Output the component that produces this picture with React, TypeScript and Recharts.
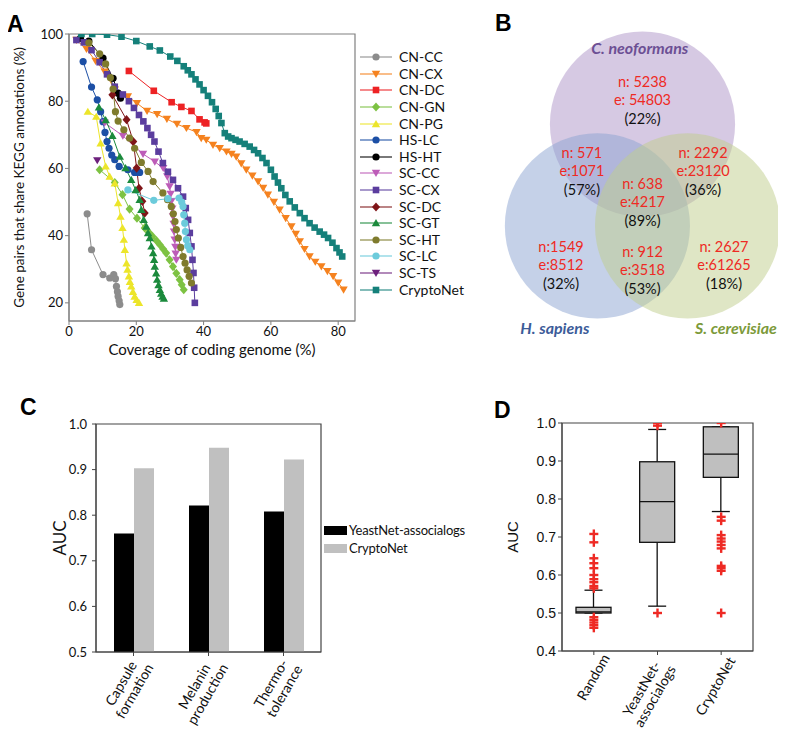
import React from "react";
import {
  LineChart,
  Line,
  XAxis,
  YAxis,
  Label,
  ReferenceArea,
  ScatterChart,
  Scatter,
  BarChart,
  Bar,
  ComposedChart,
} from "recharts";

const FONT = "Lato, 'Open Sans', sans-serif";
const ARIAL = "'Liberation Sans', Arial, sans-serif";

// ---------- panel A: coverage vs. KEGG sharing ----------
const aNames = [
  "CN-CC", "CN-CX", "CN-DC", "CN-GN", "CN-PG", "HS-LC", "HS-HT", "SC-CC",
  "SC-CX", "SC-DC", "SC-GT", "SC-HT", "SC-LC", "SC-TS", "CryptoNet",
];

const cnCC = [[5.4, 46.5], [6.7, 35.8], [10.1, 28.4], [12.1, 27.4], [13.3, 28.4], [13.8, 27.2], [14.1, 24.9], [14.4, 23.3], [14.6, 21.9], [14.9, 20.6], [15.1, 19.5]];
const cnCX = [[2.2, 98.2], [5.2, 95.5], [7.9, 92.0], [10.6, 88.8], [13.6, 83.4], [17.5, 81.4], [20.2, 79.4], [23.2, 77.1], [26.2, 76.1], [29.1, 74.7], [32.1, 73.2], [34.9, 72.0], [37.9, 70.8], [39.3, 69.0], [40.8, 68.5], [42.8, 67.0], [44.8, 66.0], [46.8, 65.0], [48.3, 64.3], [49.7, 63.5], [51.2, 61.5], [52.7, 59.6], [54.5, 57.8], [56.2, 56.1], [57.7, 54.2], [59.1, 52.2], [60.9, 50.0], [62.6, 47.7], [64.4, 45.2], [66.1, 42.7], [67.4, 40.5], [68.6, 38.3], [70.0, 36.0], [71.5, 33.8], [73.2, 32.2], [75.0, 30.8], [76.8, 29.4], [78.5, 27.9], [80.0, 26.0], [81.6, 23.9]];
const cnDC = [[17.8, 89.0], [25.2, 83.1], [30.5, 79.7], [33.4, 78.3], [36.4, 77.1], [38.8, 74.6], [40.3, 73.7], [40.8, 73.4]];
const cnGN = [[9.1, 59.6], [13.6, 55.8], [15.9, 52.2], [18.0, 47.9], [20.2, 45.2], [22.5, 42.3], [23.7, 41.0], [24.8, 39.8], [26.0, 38.5], [27.0, 37.3], [28.0, 36.0], [28.9, 34.8], [29.9, 32.8], [30.9, 30.8], [31.9, 28.8], [32.9, 26.9], [33.5, 25.4], [34.1, 23.9]];
const cnPG = [[5.6, 76.9], [8.1, 75.4], [9.4, 67.5], [10.9, 60.6], [12.1, 57.6], [13.6, 55.6], [14.6, 49.7], [15.3, 45.7], [15.9, 42.3], [16.3, 38.8], [16.6, 35.8], [17.1, 31.8], [17.4, 29.9], [17.8, 27.9], [18.1, 26.3], [18.5, 24.9], [19.0, 23.3], [19.5, 21.9], [20.1, 20.9], [20.8, 20.0]];
const hsLC = [[4.2, 91.8], [6.7, 84.2], [8.4, 80.4], [9.4, 76.9], [10.1, 73.9], [10.7, 70.7], [11.3, 68.0], [11.9, 66.0], [12.7, 64.0], [13.6, 62.6], [14.9, 60.6], [17.5, 59.6], [19.5, 58.8], [20.5, 58.8], [21.0, 58.8]];
const hsHT = [[3.4, 98.7], [5.9, 97.9], [10.1, 92.8], [13.1, 86.8], [14.6, 82.4], [15.3, 80.9]];
const scCC = [[10.6, 73.6], [16.0, 69.7], [22.0, 64.3], [25.5, 62.0], [28.0, 60.1], [29.2, 57.6], [29.9, 54.6], [30.2, 52.4], [30.4, 50.2], [30.7, 48.0], [30.9, 45.7], [31.1, 43.5], [31.2, 41.2], [31.4, 38.8], [31.6, 36.6], [31.7, 34.6], [31.9, 32.8]];
const scCX = [[2.2, 98.2], [4.4, 97.5], [6.7, 95.2], [9.1, 91.6], [11.3, 88.0], [13.6, 84.3], [16.0, 82.0], [17.8, 80.0], [19.3, 78.0], [20.8, 75.9], [22.1, 74.0], [23.3, 72.0], [24.4, 70.0], [25.4, 68.0], [26.6, 65.0], [27.9, 61.6], [29.4, 59.0], [30.9, 56.6], [32.4, 54.1], [33.9, 51.6], [34.7, 48.2], [35.4, 44.7], [35.9, 40.8], [36.4, 36.8], [36.7, 32.8], [37.0, 28.9], [37.2, 24.5], [37.4, 20.0]];
const scDC = [[12.9, 81.9], [17.1, 74.5], [19.1, 68.0], [20.1, 60.1], [20.8, 54.1], [21.8, 50.2], [22.5, 46.7]];
const scGT = [[8.9, 78.2], [10.9, 74.4], [12.9, 69.7], [15.1, 63.5], [16.8, 60.1], [18.5, 56.6], [19.8, 53.6], [21.0, 50.7], [21.5, 47.7], [22.2, 44.7], [23.0, 42.7], [23.5, 40.8], [24.0, 39.3], [24.5, 36.8], [25.0, 34.8], [25.3, 32.8], [25.5, 30.8], [25.9, 28.8], [26.2, 26.9], [26.6, 25.3], [27.0, 23.9], [27.4, 22.8], [27.8, 21.9], [28.2, 21.3]];
const scHT = [[5.9, 97.4], [9.1, 94.1], [10.9, 91.1], [12.3, 87.0], [13.1, 83.6], [13.8, 76.9], [14.6, 74.1], [16.3, 71.5], [18.0, 69.0], [19.5, 66.0], [21.5, 61.8], [23.5, 59.1], [25.0, 56.1], [27.9, 52.7], [29.3, 50.7], [30.4, 48.7], [31.0, 46.5], [31.5, 44.2], [31.9, 41.8], [32.5, 39.3], [33.2, 36.5], [33.9, 33.8], [34.5, 31.8], [35.1, 29.8], [35.7, 27.9], [36.4, 25.9]];
const scLC = [[17.5, 53.6], [25.2, 50.5], [29.4, 51.0], [32.7, 51.2], [33.5, 50.0], [33.9, 48.7], [34.1, 46.2], [34.4, 43.7], [34.6, 41.2], [34.9, 38.8], [35.3, 37.0], [35.9, 35.8]];
const scTS = [[8.4, 62.4]];
const cryptoNetA = [[3.7, 100], [6.9, 100], [11.3, 99.8], [15.6, 99.2], [20.0, 97.9], [24.0, 96.3], [27.0, 95.1], [30.1, 93.3], [32.2, 92.0], [34.1, 90.4], [35.3, 89.2], [36.4, 88.0], [37.6, 86.5], [38.8, 85.0], [40.0, 83.3], [41.3, 81.6], [42.5, 79.7], [43.6, 77.7], [44.5, 75.6], [45.3, 73.5], [46.3, 70.5], [47.3, 69.5], [48.3, 69.0], [49.5, 68.5], [50.7, 68.0], [52.2, 67.3], [53.7, 66.5], [55.0, 65.5], [56.2, 64.5], [57.5, 63.1], [58.7, 61.6], [60.0, 59.6], [61.1, 57.6], [62.1, 55.8], [63.1, 54.1], [64.3, 52.1], [65.6, 50.2], [67.1, 48.4], [68.6, 46.7], [70.0, 45.2], [71.5, 43.7], [73.0, 42.4], [74.5, 41.2], [75.8, 40.3], [77.0, 39.3], [78.3, 37.9], [79.5, 36.3], [80.4, 35.0], [81.2, 33.8]];

const aValues = [cnCC, cnCX, cnDC, cnGN, cnPG, hsLC, hsHT, scCC, scCX, scDC, scGT, scHT, scLC, scTS, cryptoNetA];
const aColors = ["#8c8c8c", "#f5821f", "#ed2224", "#7dc242", "#ece52a", "#1c4fa5", "#000000", "#bd5cb8", "#5b3d9e", "#7f1518", "#1b8a3c", "#7f7b2d", "#6ccbdb", "#6d207c", "#15807a"];
const aMarkers = ["circle", "down", "square", "diamond", "up", "circle", "circle", "down", "square", "diamond", "up", "circle", "circle", "down", "square"];

const xTicksA = [0, 20, 40, 60, 80];
const yTicksA = [20, 40, 60, 80, 100];

// ---------- panel B: Venn ----------
const vennSets = ["C. neoformans", "H. sapiens", "S. cerevisiae"];
const vennCx = [0, -0.487, 0.487];
const vennCy = [0.55, -0.55, -0.55];
const vennFill = ["#ae93c8", "#8ba4d1", "#bfcd8b"];
const vennText = ["#6c4f94", "#3c5c99", "#7c9a3a"];
const setLabelX = [-0.03, -0.946, 1.01];
const setLabelY = [1.37, -1.654, -1.654];

const regionN = ["n:  5238", "n: 571", "n: 2292", "n: 638", "n:1549", "n: 912", "n: 2627"];
const regionE = ["e: 54803", "e:1071", "e:23120", "e:4217", "e:8512", "e:3518", "e:61265"];
const regionPct = ["(22%)", "(57%)", "(36%)", "(89%)", "(32%)", "(53%)", "(18%)"];
const regionX = [0, -0.654, 0.654, 0, -0.88, 0, 0.88];
const regionY = [1.005, 0.238, 0.238, -0.097, -0.778, -0.832, -0.778];

const VENN_W = 287;
const VENN_H = 340;
const VENN_XD = [-1.55, 1.55];
const VENN_YD = [-1.838, 1.838];

// ---------- panel C: bars ----------
const cCats = ["Capsule\nformation", "Melanin\nproduction", "Thermo-\ntolerance"];
const cYeast = [0.76, 0.821, 0.808];
const cCrypto = [0.903, 0.948, 0.922];
const cTicks = [0.5, 0.6, 0.7, 0.8, 0.9, 1.0];

// ---------- panel D: box plots ----------
const dCats = ["Random", "YeastNet-\nassocialogs", "CryptoNet"];
const dLow = [0.5, 0.518, 0.767];
const dQ1 = [0.5, 0.686, 0.857];
const dMed = [0.503, 0.793, 0.918];
const dQ3 = [0.515, 0.898, 0.99];
const dHigh = [0.56, 0.983, 0.99];
const dOutliers = [
  [0.708, 0.686, 0.644, 0.631, 0.618, 0.6, 0.589, 0.581, 0.571, 0.565, 0.489, 0.482, 0.475, 0.468, 0.461],
  [1.0, 0.993, 0.5],
  [1.0, 0.753, 0.743, 0.705, 0.696, 0.688, 0.679, 0.67, 0.624, 0.618, 0.611, 0.5],
];
const dTicks = [0.4, 0.5, 0.6, 0.7, 0.8, 0.9, 1.0];

function Marker({ kind, cx, cy, color }: any) {
  if (cx == null || cy == null) return null;
  if (kind === "circle") return <circle cx={cx} cy={cy} r={3.6} fill={color} />;
  if (kind === "square") return <rect x={cx - 3.3} y={cy - 3.3} width={6.6} height={6.6} fill={color} />;
  if (kind === "down")
    return <polygon points={`${cx - 4.2},${cy - 3.2} ${cx + 4.2},${cy - 3.2} ${cx},${cy + 4}`} fill={color} />;
  if (kind === "up")
    return <polygon points={`${cx - 4.2},${cy + 3.2} ${cx + 4.2},${cy + 3.2} ${cx},${cy - 4}`} fill={color} />;
  return <polygon points={`${cx},${cy - 4.6} ${cx + 4},${cy} ${cx},${cy + 4.6} ${cx - 4},${cy}`} fill={color} />;
}

// rotated, right-anchored block; lines centred within the block
function RotTick({ x, y, payload, labels, fontSize = 14 }: any) {
  const raw = labels ? labels[payload.value - 1] : payload.value;
  const lines = String(raw).split("\n");
  const lh = fontSize * 1.1;
  const blockW = Math.max(...lines.map((l) => l.length)) * fontSize * 0.5;
  return (
    <g transform={`translate(${x + 10},${y + 2}) rotate(-60)`}>
      <text textAnchor="middle" fontSize={fontSize} fontFamily={FONT} fill="#111">
        {lines.map((l, i) => (
          <tspan key={i} x={-blockW / 2} y={(i - (lines.length - 1) / 2) * lh + fontSize * 0.35}>
            {l}
          </tspan>
        ))}
      </text>
    </g>
  );
}

function BoxShape(props: any) {
  const { x, y, width, height, payload } = props;
  const lo = payload.whisker[0];
  const hi = payload.whisker[1];
  const k = height / (hi - lo || 1);
  const yOf = (v: number) => y + (hi - v) * k;
  const cx = x + width / 2;
  const cap = 9;
  return (
    <g stroke="#111" strokeWidth={1.3}>
      <line x1={cx} x2={cx} y1={yOf(hi)} y2={yOf(payload.q3)} />
      <line x1={cx} x2={cx} y1={yOf(payload.q1)} y2={yOf(lo)} />
      <line x1={cx - cap} x2={cx + cap} y1={yOf(hi)} y2={yOf(hi)} />
      <line x1={cx - cap} x2={cx + cap} y1={yOf(lo)} y2={yOf(lo)} />
      <rect x={x} y={yOf(payload.q3)} width={width} height={yOf(payload.q1) - yOf(payload.q3)} fill="#bfbfbf" />
      <line x1={x} x2={x + width} y1={yOf(payload.med)} y2={yOf(payload.med)} />
    </g>
  );
}

function Plus({ cx, cy }: any) {
  return (
    <g stroke="#ee2a24" strokeWidth={2.4}>
      <line x1={cx - 4.5} x2={cx + 4.5} y1={cy} y2={cy} />
      <line x1={cx} x2={cx} y1={cy - 4.5} y2={cy + 4.5} />
    </g>
  );
}

const letter = (ch: string, left: number, top: number) => (
  <div
    style={{
      position: "absolute",
      left,
      top,
      fontFamily: ARIAL,
      fontWeight: 700,
      fontSize: 23,
      lineHeight: "24px",
    }}
  >
    {ch}
  </div>
);

export default function App() {
  const vennPx = VENN_W / (VENN_XD[1] - VENN_XD[0]);
  const circles = vennSets.map((s, i) => ({ name: s, x: vennCx[i], y: vennCy[i], i }));
  const setLabels = vennSets.map((s, i) => ({ name: s, x: setLabelX[i], y: setLabelY[i], i }));
  const regions = regionN.map((n, i) => ({ n, e: regionE[i], p: regionPct[i], x: regionX[i], y: regionY[i] }));

  const cData = cCats.map((c, i) => ({ name: c, yeast: cYeast[i], crypto: cCrypto[i] }));
  const dData = dCats.map((c, i) => ({
    pos: i + 1,
    whisker: [dLow[i], dHigh[i]],
    q1: dQ1[i],
    med: dMed[i],
    q3: dQ3[i],
  }));
  const dOut = dOutliers.flatMap((vals, i) => vals.map((v) => ({ pos: i + 1, v })));

  const axisTick = { fontSize: 13, fill: "#111", fontFamily: FONT };

  return (
    <div style={{ position: "relative", width: 778, height: 723, overflow: "hidden", fontFamily: FONT }}>
      {letter("A", -1, 4)}
      {letter("B", 487, 3)}
      {letter("C", 12, 387)}
      {letter("D", 486, 390)}

      {/* Panel A */}
      <div style={{ position: "absolute", left: 0, top: 0 }}>
        <LineChart width={490} height={355} margin={{ top: 26, right: 143, bottom: 0, left: 0 }}>
          <XAxis
            type="number"
            dataKey="x"
            domain={[0, 85]}
            ticks={xTicksA}
            height={42}
            tick={axisTick}
            tickSize={4}
            axisLine={{ stroke: "#808080" }}
            tickLine={{ stroke: "#808080" }}
            allowDataOverflow
          >
            <Label value="Coverage of coding genome (%)" position="center" dy={8} fontSize={15} fill="#111" fontFamily={FONT} />
          </XAxis>
          <YAxis
            type="number"
            domain={[14.6, 100]}
            ticks={yTicksA}
            width={61}
            tick={axisTick}
            tickSize={4}
            axisLine={{ stroke: "#808080" }}
            tickLine={{ stroke: "#808080" }}
            allowDataOverflow
          >
            <Label
              value="Gene pairs that share KEGG annotations (%)"
              angle={-90}
              position="center"
              dx={-19}
              fontSize={13.5}
              fill="#111"
              fontFamily={FONT}
            />
          </YAxis>
          <ReferenceArea x1={0} x2={85} y1={14.6} y2={100} fill="none" stroke="#808080" strokeWidth={1.2} />
          {aNames.map((name, si) => (
            <Line
              key={name}
              data={aValues[si].map(([x, y]) => ({ x, y }))}
              dataKey="y"
              name={name}
              type="linear"
              stroke={aColors[si]}
              strokeWidth={1}
              isAnimationActive={false}
              activeDot={false}
              dot={(p: any) => (
                <Marker key={`${name}-${p.index}`} kind={aMarkers[si]} cx={p.cx} cy={p.cy} color={aColors[si]} />
              )}
            />
          ))}
        </LineChart>
      </div>
      <div style={{ position: "absolute", left: 350, top: 41, fontSize: 14, color: "#111" }}>
        {aNames.map((name, si) => (
          <div key={name} style={{ display: "flex", alignItems: "center", height: 16.6 }}>
            <svg width={36} height={14}>
              <line x1={2} y1={7} x2={34} y2={7} stroke={aColors[si]} strokeWidth={1.4} opacity={0.75} />
              <Marker kind={aMarkers[si]} cx={18} cy={7} color={aColors[si]} />
            </svg>
            <span style={{ marginLeft: 5, lineHeight: "14px" }}>{name}</span>
          </div>
        ))}
      </div>

      {/* Panel B */}
      <div style={{ position: "absolute", left: 491, top: -3 }}>
        <ScatterChart width={VENN_W} height={VENN_H} margin={{ top: 0, right: 0, bottom: 0, left: 0 }}>
          <XAxis type="number" dataKey="x" domain={VENN_XD} hide />
          <YAxis type="number" dataKey="y" domain={VENN_YD} hide />
          <Scatter
            data={circles}
            isAnimationActive={false}
            shape={(p: any) => (
              <circle cx={p.cx} cy={p.cy} r={vennPx} fill={vennFill[p.payload.i]} fillOpacity={0.5} />
            )}
          />
          <Scatter
            data={setLabels}
            isAnimationActive={false}
            shape={(p: any) => (
              <text
                x={p.cx}
                y={p.cy}
                dy="0.35em"
                textAnchor="middle"
                fontFamily={FONT}
                fontWeight={700}
                fontStyle="italic"
                fontSize={16}
                fill={vennText[p.payload.i]}
              >
                {p.payload.name}
              </text>
            )}
          />
          <Scatter
            data={regions}
            isAnimationActive={false}
            shape={(p: any) => (
              <g fontFamily={FONT} fontSize={14.5} textAnchor="middle">
                <text x={p.cx} y={p.cy} dy="0.35em" fill="#ee2a24">
                  {p.payload.n}
                </text>
                <text x={p.cx} y={p.cy + 17.5} dy="0.35em" fill="#ee2a24">
                  {p.payload.e}
                </text>
                <text x={p.cx} y={p.cy + 36.5} dy="0.35em" fill="#111">
                  {p.payload.p}
                </text>
              </g>
            )}
          />
        </ScatterChart>
      </div>

      {/* Panel C */}
      <div style={{ position: "absolute", left: 0, top: 380 }}>
        <BarChart
          width={470}
          height={343}
          data={cData}
          margin={{ top: 36, right: 157, bottom: 0, left: 0 }}
          barGap={0}
          barSize={20}
        >
          <XAxis
            dataKey="name"
            height={79}
            interval={0}
            tick={<RotTick fontSize={14} />}
            tickSize={4}
            axisLine={{ stroke: "#444" }}
            tickLine={{ stroke: "#444" }}
          />
          <YAxis
            type="number"
            domain={[0.5, 1]}
            ticks={cTicks}
            width={88}
            tickFormatter={(v: number) => v.toFixed(1)}
            tick={axisTick}
            tickSize={4}
            tickMargin={5}
            axisLine={{ stroke: "#444" }}
            tickLine={{ stroke: "#444" }}
            allowDataOverflow
          >
            <Label value="AUC" angle={-90} position="center" dx={8} fontSize={17} fill="#111" fontFamily={FONT} />
          </YAxis>
          <ReferenceArea y1={0.5} y2={1} fill="none" stroke="#444" strokeWidth={1.2} />
          <Bar dataKey="yeast" name="YeastNet-associalogs" fill="#000000" isAnimationActive={false} />
          <Bar dataKey="crypto" name="CryptoNet" fill="#c0c0c0" isAnimationActive={false} />
        </BarChart>
      </div>
      <div style={{ position: "absolute", left: 316, top: 513, fontSize: 13, color: "#111", letterSpacing: -0.2 }}>
        {[
          ["YeastNet-associalogs", "#000000"],
          ["CryptoNet", "#c0c0c0"],
        ].map(([n, c]) => (
          <div key={n} style={{ display: "flex", alignItems: "center", height: 18 }}>
            <div style={{ width: 23, height: 9, background: c }} />
            <span style={{ marginLeft: 2, lineHeight: "14px" }}>{n}</span>
          </div>
        ))}
      </div>

      {/* Panel D */}
      <div style={{ position: "absolute", left: 482, top: 380 }}>
        <ComposedChart width={283} height={343} data={dData} margin={{ top: 35, right: 20, bottom: 0, left: 0 }}>
          <XAxis
            type="number"
            dataKey="pos"
            domain={[0.5, 3.5]}
            ticks={[1, 2, 3]}
            height={80}
            interval={0}
            tick={<RotTick labels={dCats} fontSize={14} />}
            tickSize={4}
            axisLine={{ stroke: "#444" }}
            tickLine={{ stroke: "#444" }}
            allowDataOverflow
          />
          <YAxis
            type="number"
            domain={[0.4, 1]}
            ticks={dTicks}
            width={72}
            tickFormatter={(v: number) => v.toFixed(1)}
            tick={{ fontSize: 14, fill: "#111", fontFamily: ARIAL }}
            tickSize={4}
            tickMargin={2}
            axisLine={{ stroke: "#444" }}
            tickLine={{ stroke: "#444" }}
            allowDataOverflow
          >
            <Label value="AUC" angle={-90} position="center" dx={-13} fontSize={15} fill="#111" fontFamily={ARIAL} />
          </YAxis>
          <ReferenceArea y1={0.4} y2={1} fill="none" stroke="#444" strokeWidth={1.2} />
          <Bar dataKey="whisker" barSize={35} shape={<BoxShape />} isAnimationActive={false} />
          <Scatter data={dOut} dataKey="v" shape={<Plus />} isAnimationActive={false} />
        </ComposedChart>
      </div>
    </div>
  );
}
